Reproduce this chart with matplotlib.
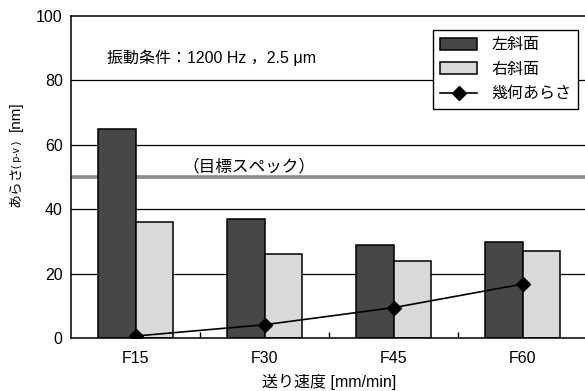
import matplotlib
matplotlib.use("Agg")
from matplotlib import pyplot as plt
from matplotlib.patches import Patch
from matplotlib.lines import Line2D
import numpy as np

plt.rcParams['font.family'] = ['Liberation Sans', 'Noto Sans CJK JP', 'DejaVu Sans']

categories = ["F15", "F30", "F45", "F60"]
left_slope = [65, 37, 29, 30]      # 左斜面
right_slope = [36, 26, 24, 27]     # 右斜面
geom_rough = [0.7, 4.2, 9.5, 16.8]  # 幾何あらさ
target_spec = 50

W, H = 585, 391
fig = plt.figure(figsize=(W / 100, H / 100), dpi=100)
ax = fig.add_axes([71 / W, (H - 338.3) / H, (587 - 71) / W, (338.3 - 15.7) / H])

x = np.arange(len(categories))
bw = 0.29

# grid + spec line behind bars
for yv in [20, 40, 60, 80]:
    ax.axhline(yv, color='black', lw=0.9, zorder=0)
ax.axhline(target_spec, color='#8c8c8c', lw=2.6, zorder=0.5)

ax.bar(x - bw / 2, left_slope, bw, color='#474747', edgecolor='black', lw=1.1, zorder=2)
ax.bar(x + bw / 2, right_slope, bw, color='#d9d9d9', edgecolor='black', lw=1.1, zorder=2)
ax.plot(x, geom_rough, color='black', lw=1.2, marker='D', ms=7.5, zorder=3)

ax.set_xlim(-0.5, 3.5)
ax.set_ylim(0, 100)
ax.set_yticks([0, 20, 40, 60, 80, 100])
ax.set_xticks(x)
ax.set_xticklabels(categories, fontsize=11.5)
ax.set_xticks([0.5, 1.5, 2.5], minor=True)
ax.tick_params(axis='x', which='major', length=0, pad=9)
ax.tick_params(axis='x', which='minor', direction='in', length=4.5, width=1)
ax.tick_params(axis='y', length=0, labelsize=11.5, pad=6)

ax.spines['right'].set_visible(False)
for sp in ['left', 'bottom', 'top']:
    ax.spines[sp].set_linewidth(1.1)

ax.set_xlabel("送り速度 [mm/min]", fontsize=11.5, labelpad=6)

fig.text(107 / W, 1 - 58 / H, "振動条件：1200 Hz ，2.5 μm", fontsize=11.5, ha='left', va='center')
fig.text(248.5 / W, 1 - 166 / H, "（目標スペック）", fontsize=12, ha='center', va='center')

# y label pieces (subscript), laid bottom to top
fig.text(15.5 / W, 1 - 207 / H, "あらさ", fontsize=10, rotation=90, ha='center', va='bottom')
fig.text(16.5 / W, 1 - 168 / H, "( p-v )", fontsize=7.5, rotation=90, ha='center', va='bottom')
fig.text(15.5 / W, 1 - 131 / H, "[nm]", fontsize=11, rotation=90, ha='center', va='bottom')

handles = [
    Patch(facecolor='#474747', edgecolor='black', lw=1.1),
    Patch(facecolor='#d9d9d9', edgecolor='black', lw=1.1),
    Line2D([], [], color='black', lw=1.2, marker='D', ms=7.5),
]
leg = ax.legend(handles, ["左斜面", "右斜面", "幾何あらさ"], fontsize=11.5,
                loc='upper left', bbox_to_anchor=(433 / W, 1 - 30 / H),
                bbox_transform=fig.transFigure, frameon=True, fancybox=False,
                edgecolor='black', framealpha=1, borderpad=0.45, labelspacing=0.6,
                handlelength=2.3, handleheight=0.8, handletextpad=0.9, borderaxespad=0)
leg.get_frame().set_linewidth(1.0)
leg.set_zorder(5)

fig.savefig("out.png", dpi=100)
